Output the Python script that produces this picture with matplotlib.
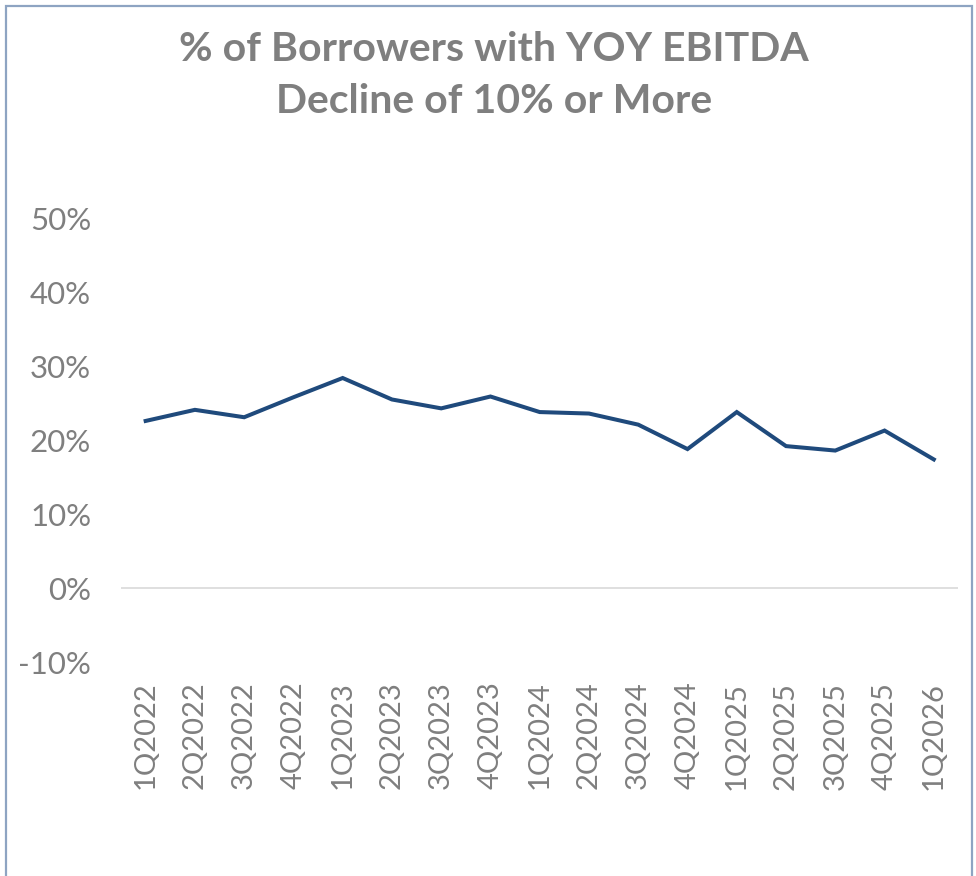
import matplotlib.pyplot as plt
from matplotlib.patches import Rectangle
from matplotlib.ticker import FuncFormatter

# quarters and share of borrowers (%) with YOY EBITDA decline >= 10%
Quarters = ["1Q2022", "2Q2022", "3Q2022", "4Q2022",
            "1Q2023", "2Q2023", "3Q2023", "4Q2023",
            "1Q2024", "2Q2024", "3Q2024", "4Q2024",
            "1Q2025", "2Q2025", "3Q2025", "4Q2025",
            "1Q2026"]
SharePct = [22.6, 24.1, 23.1, 25.8,
            28.4, 25.5, 24.3, 25.9,
            23.8, 23.6, 22.1, 18.8,
            23.8, 19.2, 18.6, 21.3,
            17.4]

TextGray = "#7f7f7f"
LineBlue = "#1f4a7c"

plt.rcParams['font.family'] = ['Lato', 'DejaVu Sans']

fig = plt.figure(figsize=(9.76, 8.76), dpi=100)
ax = fig.add_axes([0.124, 0.244, 0.858, 0.507])

ax.plot(range(len(Quarters)), SharePct, color=LineBlue, linewidth=2.9,
        solid_joinstyle='miter')

ax.set_xlim(-0.5, len(Quarters) - 0.5)
ax.set_ylim(-10, 50)
ax.set_yticks(range(-10, 51, 10))
ax.yaxis.set_major_formatter(FuncFormatter(lambda v, p: f"{v:.0f}%"))
ax.set_xticks(range(len(Quarters)))
ax.set_xticklabels(Quarters, rotation=90)

ax.axhline(0, color="#d9d9d9", linewidth=1.2, zorder=0)
for s in ax.spines.values():
    s.set_visible(False)
ax.tick_params(axis='both', length=0, labelcolor=TextGray)
ax.tick_params(axis='y', pad=21.5, labelsize=22.5)
ax.tick_params(axis='x', pad=14, labelsize=21)

fig.text(0.506, 0.965, "% of Borrowers with YOY EBITDA\nDecline of 10% or More",
         ha='center', va='top', fontsize=29.5, fontweight='bold', color=TextGray,
         linespacing=1.52)

# chart frame
fig.patches.append(Rectangle((6 / 976, -0.05), 966 / 976, 1.05 - 6 / 876,
                             transform=fig.transFigure, fill=False,
                             edgecolor="#8ea4c2", linewidth=1.6))

fig.savefig("out.png", dpi=100)
